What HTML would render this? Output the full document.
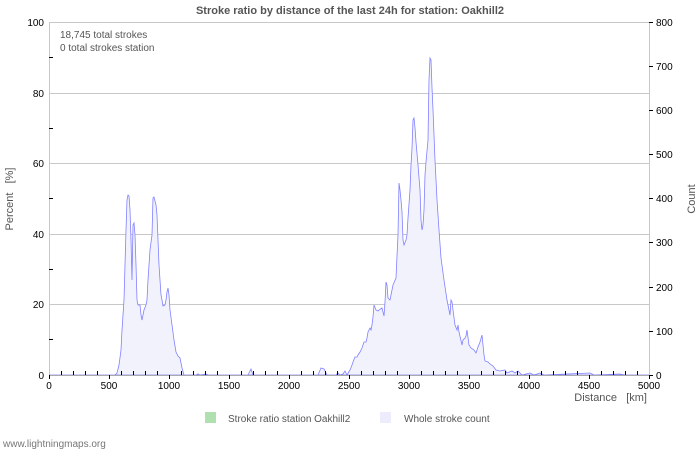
<!DOCTYPE html>
<html><head><style>
body{margin:0;background:#fff;}
svg{display:block;font-family:"Liberation Sans",sans-serif;}
</style></head><body>
<svg width="700" height="450" viewBox="0 0 700 450">
<rect width="700" height="450" fill="#fff"/>
<text x="350" y="14" text-anchor="middle" font-size="11" font-weight="bold" fill="#555">Stroke ratio by distance of the last 24h for station: Oakhill2</text>
<g stroke="#c8c8c8" stroke-width="1">
<line x1="49" y1="22.5" x2="649" y2="22.5"/>
<line x1="49" y1="93.5" x2="649" y2="93.5"/>
<line x1="49" y1="163.5" x2="649" y2="163.5"/>
<line x1="49" y1="234.5" x2="649" y2="234.5"/>
<line x1="49" y1="304.5" x2="649" y2="304.5"/>
<line x1="49.5" y1="22" x2="49.5" y2="375"/>
<line x1="649.5" y1="22" x2="649.5" y2="375"/>
</g>
<polygon fill="#f2f2fc" stroke="#8080ff" stroke-width="0.8" points="49,375 112,375 115,375 117,373 119,365 121,350 122,330 124,300 125,265 126,230 127,200 128,195 129,196 130,210 131,240 132,280 133,225 134,223 135,235 136,265 137,300 138,305 140,305 141,315 142,320 144,310 146,305 147,300 148,280 150,250 152,235 153,198 154,197 156,205 157,215 158,240 159,265 160,280 161,295 162,300 163,306 165,305 166,300 167,292 168,288 169,295 170,310 172,325 174,340 176,352 178,356 180,358 182,368 184,375 196,375 198,374 200,375 206,374 208,375 248,375 251,369 253,375 318,375 321,368 324,369 327,375 336,375 338,373 340,375 343,374 345,371 347,375 350,370 352,365 353,362 355,357 357,357 358,355 360,352 362,348 364,342 366,342 367,338 368,332 370,328 371,330 372,325 373,317 374,305 376,310 378,311 379,310 382,308 384,316 385,302 386,282 387,285 388,298 390,300 392,290 393,285 396,278 397,256 398,235 399,183 400,190 401,200 402,212 403,240 404,245 406,240 407,235 408,218 410,190 411,165 412,148 413,120 414,118 415,128 416,142 418,165 420,190 421,220 422,230 423,225 424,210 425,175 426,162 428,140 429,80 430,58 431,60 432,88 433,110 435,160 437,200 439,230 441,258 444,280 447,300 450,315 451,300 452,302 453,310 455,325 457,330 458,325 459,332 462,345 463,340 465,338 466,336 467,330 469,345 471,348 474,350 476,353 478,347 480,342 482,335 484,355 485,361 488,362 490,364 493,366 496,370 500,371 505,370 507,373 512,371 515,373 518,371 522,375 530,373 534,375 540,373 544,375 590,373 594,375 620,374 625,375 649,375"/>
<line x1="49" y1="375.5" x2="649" y2="375.5" stroke="#aaa"/>
<g stroke="#000" stroke-width="1">
<path d="M49.5 375v4M109.5 375v4M169.5 375v4M229.5 375v4M289.5 375v4M349.5 375v4M409.5 375v4M469.5 375v4M529.5 375v4M589.5 375v4M649.5 375v4"/>
<path d="M61.5 371v4M73.5 371v4M85.5 371v4M97.5 371v4M121.5 371v4M133.5 371v4M145.5 371v4M157.5 371v4M181.5 371v4M193.5 371v4M205.5 371v4M217.5 371v4M241.5 371v4M253.5 371v4M265.5 371v4M277.5 371v4M301.5 371v4M313.5 371v4M325.5 371v4M337.5 371v4M361.5 371v4M373.5 371v4M385.5 371v4M397.5 371v4M421.5 371v4M433.5 371v4M445.5 371v4M457.5 371v4M481.5 371v4M493.5 371v4M505.5 371v4M517.5 371v4M541.5 371v4M553.5 371v4M565.5 371v4M577.5 371v4M601.5 371v4M613.5 371v4M625.5 371v4M637.5 371v4"/>
<path d="M49 57.5h4M49 128.5h4M49 198.5h4M49 269.5h4M49 339.5h4"/>
<path d="M649 22.5h4M649 66.5h4M649 110.5h4M649 154.5h4M649 198.5h4M649 242.5h4M649 287.5h4M649 331.5h4M649 375.5h4"/>
</g>
<g font-size="10" fill="#000" text-anchor="end">
<text x="44" y="26">100</text><text x="44" y="97">80</text><text x="44" y="167">60</text><text x="44" y="238">40</text><text x="44" y="308">20</text><text x="44" y="379">0</text>
</g>
<g font-size="10" fill="#000" text-anchor="start">
<text x="656" y="26">800</text><text x="656" y="70">700</text><text x="656" y="114">600</text><text x="656" y="158">500</text><text x="656" y="202">400</text><text x="656" y="246">300</text><text x="656" y="291">200</text><text x="656" y="335">100</text><text x="656" y="379">0</text>
</g>
<g font-size="10" fill="#000" text-anchor="middle">
<text x="49" y="389">0</text><text x="109" y="389">500</text><text x="169" y="389">1000</text><text x="229" y="389">1500</text><text x="289" y="389">2000</text><text x="349" y="389">2500</text><text x="409" y="389">3000</text><text x="469" y="389">3500</text><text x="529" y="389">4000</text><text x="589" y="389">4500</text><text x="649" y="389">5000</text>
</g>
<text x="647" y="401" text-anchor="end" font-size="11" fill="#555">Distance&#160;&#160;&#160;[km]</text>
<text transform="translate(13,199) rotate(-90)" text-anchor="middle" font-size="11" fill="#555">Percent&#160;&#160;&#160;[%]</text>
<text transform="translate(695,199) rotate(-90)" text-anchor="middle" font-size="11" fill="#555">Count</text>
<text x="60" y="38" font-size="10" fill="#555">18,745 total strokes</text>
<text x="60" y="51" font-size="10" fill="#555">0 total strokes station</text>
<rect x="205" y="412" width="11" height="11" fill="#b0e0b0"/>
<text x="228" y="422" font-size="10" fill="#555">Stroke ratio station Oakhill2</text>
<rect x="380" y="412" width="11" height="11" fill="#ececfc"/>
<text x="404" y="422" font-size="10" fill="#555">Whole stroke count</text>
<text x="3" y="447" font-size="10" fill="#777">www.lightningmaps.org</text>
</svg>
</body></html>
